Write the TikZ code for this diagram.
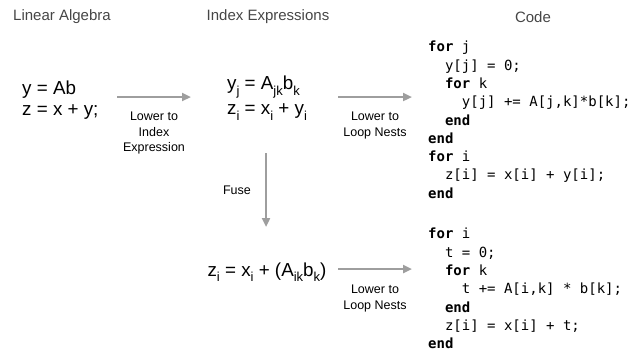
\documentclass[tikz,border=0pt]{standalone}
\usepackage{fontspec}
\setmainfont{Liberation Sans}
\setmonofont{DejaVu Sans Mono}
\usetikzlibrary{arrows.meta}

\definecolor{flowgray}{RGB}{158,158,158}
\definecolor{headgray}{RGB}{70,70,70}
\newcommand{\sbs}[1]{\raisebox{-0.3em}{\fontsize{13}{13}\selectfont #1}}

\begin{document}
\begin{tikzpicture}[x=1pt, y=-1pt,
    heading/.style={text=headgray, font=\fontsize{15}{17}\selectfont, inner sep=0pt},
    expr/.style={align=left, inner sep=0pt, font=\fontsize{18.8}{21}\selectfont},
    lbl/.style={align=center, inner sep=0pt, font=\fontsize{12.5}{15.5}\selectfont},
    codeblock/.style={align=left, inner sep=0pt, font=\ttfamily\fontsize{14}{18.3}\selectfont},
    flow/.style={draw=flowgray, line width=2.4pt, -{Triangle[length=9pt, width=8pt]}}]
    \useasboundingbox (0,0) rectangle (634,351);

    % 제목
    \node[heading] (tla) at (62,17) {Linear Algebra};
    \node[heading] (tie) at (268,17) {Index Expressions};
    \node[heading] (tcd) at (533,17) {Code};

    % 식
    \node[expr, anchor=west] (la) at (22,100) {y = Ab\\z = x + y;};
    \node[expr, anchor=north west, font=\fontsize{18.8}{25}\selectfont] (ie) at (227,76)
        {y\sbs{j} = A\sbs{jk}b\sbs{k}\\
         z\sbs{i} = x\sbs{i} + y\sbs{i}};
    \node[expr, anchor=base] (fe) at (267,276)
        {z\sbs{i} = x\sbs{i} + (A\sbs{ik}b\sbs{k})};

    % 코드
    \node[codeblock, anchor=north west] (c1) at (428,41)
        {\textbf{for} j\\
         ~~y[j] = 0;\\
         ~~\textbf{for} k\\
         ~~~~y[j] += A[j,k]*b[k];\\
         ~~\textbf{end}\\
         \textbf{end}\\
         \textbf{for} i\\
         ~~z[i] = x[i] + y[i];\\
         \textbf{end}};
    \node[codeblock, anchor=north west] (c2) at (428,228)
        {\textbf{for} i\\
         ~~t = 0;\\
         ~~\textbf{for} k\\
         ~~~~t += A[i,k] * b[k];\\
         ~~\textbf{end}\\
         ~~z[i] = x[i] + t;\\
         \textbf{end}};

    % 화살표 끝점
    \coordinate (a1s) at (117,97);
    \coordinate (a1e) at (191,97);
    \coordinate (a2s) at (338,97);
    \coordinate (a2e) at (412,97);
    \coordinate (a3s) at (266,153);
    \coordinate (a3e) at (266,227);
    \coordinate (a4s) at (338,269);
    \coordinate (a4e) at (412,269);

    % 화살표
    \draw[flow] (a1s) -- node[lbl, below=14pt] (l1) {Lower to\\Index\\Expression} (a1e);
    \draw[flow] (a2s) -- node[lbl, below=14pt] (l2) {Lower to\\Loop Nests} (a2e);
    \draw[flow] (a3s) -- node[lbl, left=14pt] (l3) {Fuse} (a3e);
    \draw[flow] (a4s) -- node[lbl, below=15pt] (l4) {Lower to\\Loop Nests} (a4e);

\end{tikzpicture}
\end{document}
